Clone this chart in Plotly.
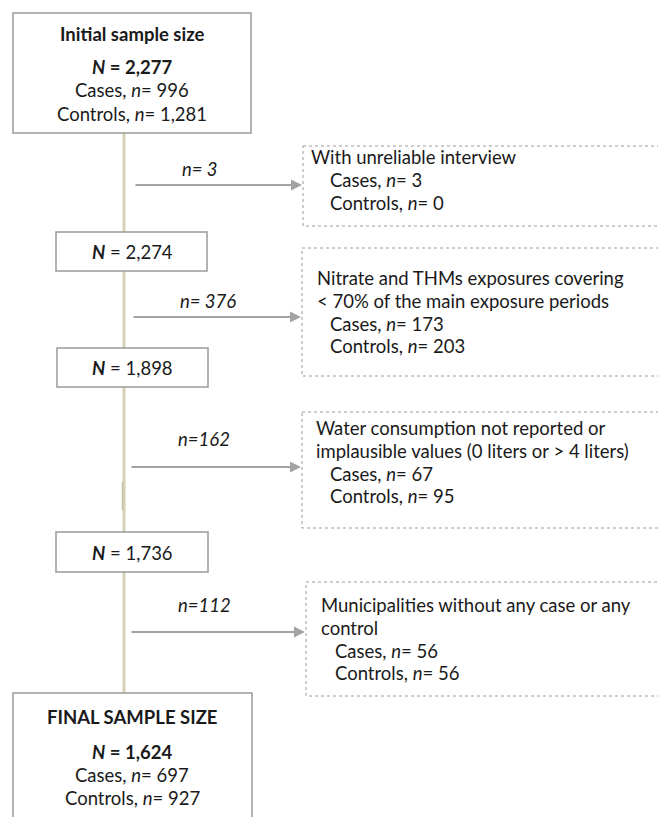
import plotly.graph_objects as go

# ---- data ----
stage_N = ["2,277", "2,274", "1,898", "1,736", "1,624"]
stage_cases = ["996", None, None, None, "697"]
stage_controls = ["1,281", None, None, None, "927"]
excluded_n = ["n= 3", "n= 376", "n=162", "n=112"]
excl_reason = [
    ["With unreliable interview"],
    ["Nitrate and THMs exposures covering", "< 70% of the main exposure periods"],
    ["Water consumption not reported or", "implausible values (0 liters or > 4 liters)"],
    ["Municipalities without any case or any", "control"],
]
excl_cases = ["3", "173", "67", "56"]
excl_controls = ["0", "203", "95", "56"]

# ---- layout geometry ----
W, H = 666, 817
OFF = 8  # default page body margin
FONT = "Lato"
FS = 18.5
TXT = "#1a1a1a"
BORDER = "#9a9a9a"
ARROW = "#a3a3a3"
SPINE = "#d8d1b3"

fig = go.Figure()
shapes = []
ann = []

def txt(x, y, s, size=FS, xanchor="center"):
    ann.append(dict(x=x, y=y, xref="x", yref="y", text=s, showarrow=False,
                    xanchor=xanchor, yanchor="middle",
                    font=dict(family=FONT, size=size, color=TXT)))

# spine
shapes.append(dict(type="line", x0=124, x1=124, y0=133, y1=693, xref="x", yref="y",
                   line=dict(color=SPINE, width=3), layer="below"))
shapes.append(dict(type="line", x0=122.5, x1=122.5, y0=482, y1=510, xref="x", yref="y",
                   line=dict(color="#c9c2a8", width=1.5), layer="below"))

# main boxes
big_boxes = [(13, 13, 251, 133), None, None, None, (13, 693, 252, 830)]
small_boxes = [None, (56, 232, 207, 271), (57, 348, 208, 387), (56, 532, 208, 572), None]
for i in range(5):
    b = big_boxes[i] or small_boxes[i]
    shapes.append(dict(type="rect", x0=b[0], y0=b[1], x1=b[2], y1=b[3], xref="x", yref="y",
                       line=dict(color=BORDER, width=1.5), fillcolor="white"))

# big box texts
txt(132, 34, "<b>Initial sample size</b>")
txt(132, 67, "<b><i>N</i> = %s</b>" % stage_N[0])
txt(132, 90, "Cases, <i>n</i>= %s" % stage_cases[0])
txt(132, 114, "Controls, <i>n</i>= %s" % stage_controls[0])

txt(132, 717, "<b>FINAL SAMPLE SIZE</b>")
txt(132, 752, "<b><i>N</i> = %s</b>" % stage_N[4])
txt(132, 775, "Cases, <i>n</i>= %s" % stage_cases[4])
txt(132, 798, "Controls, <i>n</i>= %s" % stage_controls[4])

# small box texts
for i, yc in zip([1, 2, 3], [252, 368, 553]):
    txt(132, yc, "<b><i>N</i></b> = %s" % stage_N[i])

# exclusion boxes
dbox = [(303, 146, 662, 226), (302, 248, 663, 376), (302, 412, 662, 528), (306, 582, 663, 696)]
arrow_y = [185, 317, 467, 632]
arrow_x0 = [134, 132, 130, 130]
label_y = [169, 301, 439, 605]
label_x = [200, 208, 204, 204]
text_x = [309, 315, 314, 319]
indent_x = [328, 328, 328, 333]
line_y0 = [157, 278, 428, 605]
LS = 22.8
for k in range(4):
    b = dbox[k]
    shapes.append(dict(type="rect", x0=b[0], y0=b[1], x1=b[2], y1=b[3], xref="x", yref="y",
                       line=dict(color=BORDER, width=1, dash="dot"), fillcolor="white"))
    ann.append(dict(x=b[0] - 1, y=arrow_y[k], ax=arrow_x0[k], ay=arrow_y[k],
                    xref="x", yref="y", axref="x", ayref="y", text="", showarrow=True,
                    arrowhead=2, arrowsize=1.1, arrowwidth=2, arrowcolor=ARROW))
    txt(label_x[k], label_y[k], "<i>%s</i>" % excluded_n[k])
    y = line_y0[k]
    for line in excl_reason[k]:
        txt(text_x[k], y, line, xanchor="left")
        y += LS
    txt(indent_x[k], y, "Cases, <i>n</i>= %s" % excl_cases[k], xanchor="left")
    y += LS
    txt(indent_x[k], y, "Controls, <i>n</i>= %s" % excl_controls[k], xanchor="left")

fig.update_layout(
    width=W - OFF, height=H - OFF, margin=dict(l=0, r=0, t=0, b=0),
    paper_bgcolor="white", plot_bgcolor="white",
    xaxis=dict(range=[OFF, W], visible=False, fixedrange=True),
    yaxis=dict(range=[H, OFF], visible=False, fixedrange=True),
    shapes=shapes, annotations=ann, showlegend=False,
)
fig.write_html("out.html", config={"displayModeBar": False})
